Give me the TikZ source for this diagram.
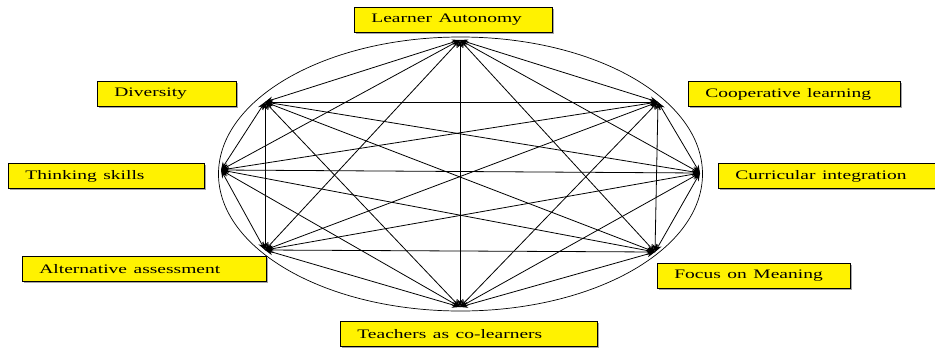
\documentclass[tikz,border=0pt]{standalone}
\usepackage{fontspec}
\setmainfont{Liberation Serif}
\usetikzlibrary{arrows.meta,shadows}
\newcommand{\wtext}[1]{\scalebox{1.5}[1]{#1}}

\begin{document}
\begin{tikzpicture}[
  x=1pt, y=-1pt,
  lbl/.style={draw, fill=yellow, anchor=north west, minimum height=25pt, inner xsep=17pt,
    text width=#1, align=left, font=\fontsize{13}{15}\selectfont, line width=0.8pt,
    drop shadow={shadow xshift=1.2pt, shadow yshift=-1.2pt, fill=gray!70, opacity=1}},
  arr/.style={{Stealth[length=8pt,width=6pt]}-{Stealth[length=8pt,width=6pt]}, line width=0.8pt}
]
  \useasboundingbox (0,0) rectangle (935,349);

  % the eight points on the ring
  \coordinate (auton)  at (460,40);
  \coordinate (coop)   at (658,102);
  \coordinate (curric) at (700,173);
  \coordinate (focus)  at (655,252);
  \coordinate (teach)  at (460,307);
  \coordinate (alt)    at (265,250);
  \coordinate (think)  at (221,170);
  \coordinate (divers) at (265,102);

  \draw[line width=0.7pt] (460.5,174) ellipse [x radius=242pt, y radius=137pt];

  \foreach \a [count=\i] in {auton,coop,curric,focus,teach,alt,think,divers}{
    \foreach \b [count=\j] in {auton,coop,curric,focus,teach,alt,think,divers}{
      \ifnum\i<\j \draw[arr] (\a) -- (\b); \fi
    }
  }

  % labels
  \node[lbl=164pt] (lauton)  at (354,7)   {\wtext{Learner Autonomy}};
  \node[lbl=178pt] (lcoop)   at (688,81)  {\wtext{Cooperative learning}};
  \node[lbl=183pt] (lcurric) at (718,163) {\wtext{Curricular integration}};
  \node[lbl=159pt] (lfocus)  at (657,263) {\wtext{Focus on Meaning}};
  \node[lbl=223pt] (lteach)  at (340,321) {\wtext{Teachers as co-learners}};
  \node[lbl=210pt] (lalt)    at (22,256)  {\wtext{Alternative assessment}};
  \node[lbl=162pt] (lthink)  at (8,163)   {\wtext{Thinking skills}};
  \node[lbl=105pt] (ldivers) at (97,81)   {\wtext{Diversity}};
\end{tikzpicture}
\end{document}
